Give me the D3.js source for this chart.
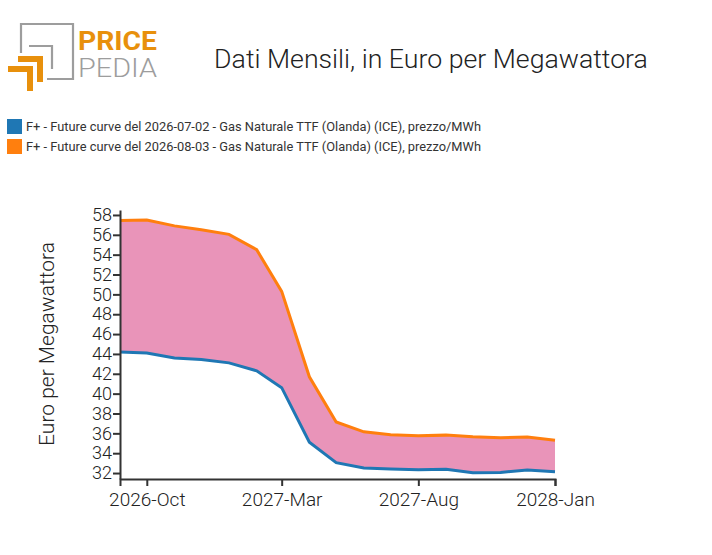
<!DOCTYPE html>
<html>
<head>
<meta charset="utf-8">
<script src="https://cdn.jsdelivr.net/npm/d3@7"></script>
<style>
  body { margin: 0; background: #fff; }
  svg text { font-family: Roboto, sans-serif; }
</style>
</head>
<body>
<div id="chart"></div>
<script>
// monthly futures curve, Sep 2026 .. Jan 2028
var months = ["2026-09", "2026-10", "2026-11", "2026-12", "2027-01", "2027-02", "2027-03", "2027-04",
              "2027-05", "2027-06", "2027-07", "2027-08", "2027-09", "2027-10", "2027-11", "2027-12", "2028-01"];
var curveJul = [44.2, 44.1, 43.6, 43.45, 43.1, 42.3, 40.6, 35.1, 33.05, 32.5, 32.4, 32.33, 32.38, 32.03, 32.06, 32.3, 32.13];
var curveAug = [57.45, 57.5, 56.9, 56.5, 56.05, 54.5, 50.3, 41.7, 37.15, 36.15, 35.85, 35.75, 35.82, 35.65, 35.55, 35.62, 35.3];
var seriesNames = [
  "F+ - Future curve del 2026-07-02 - Gas Naturale TTF (Olanda) (ICE), prezzo/MWh",
  "F+ - Future curve del 2026-08-03 - Gas Naturale TTF (Olanda) (ICE), prezzo/MWh"
];
var xTicks = ["2026-10", "2027-03", "2027-08", "2028-01"];
var yTicks = [32, 34, 36, 38, 40, 42, 44, 46, 48, 50, 52, 54, 56, 58];

var width = 712, height = 555;
var colors = ["#1f77b4", "#ff7f0e"];

var svg = d3.select("#chart").append("svg")
    .attr("width", width)
    .attr("height", height);

var parse = d3.timeParse("%Y-%m");
var dates = months.map(parse);

var x = d3.scaleTime()
    .domain([dates[0], dates[dates.length - 1]])
    .range([120, 555]);

var y = d3.scaleLinear()
    .domain([31.4, 58.5])
    .range([479, 210]);

// logo
var logo = svg.append("g");
logo.append("path")
    .attr("d", "M21,53 V24 H73 V79 H47")
    .style("fill", "none").style("stroke", "#9d9d9d").style("stroke-width", 2.2);
logo.append("path")
    .attr("d", "M29,46 H52 V69")
    .style("fill", "none").style("stroke", "#9d9d9d").style("stroke-width", 2.2);
logo.append("path")
    .attr("d", "M18,59 H40 V82")
    .style("fill", "none").style("stroke", "#e8900c").style("stroke-width", 6);
logo.append("path")
    .attr("d", "M8,69 H30 V91")
    .style("fill", "none").style("stroke", "#e8900c").style("stroke-width", 6);
logo.append("text")
    .attr("x", 78).attr("y", 49.5)
    .style("font-size", "25px").style("font-weight", "bold").style("fill", "#e8900c")
    .attr("textLength", 79).attr("lengthAdjust", "spacingAndGlyphs")
    .text("PRICE");
logo.append("text")
    .attr("x", 78).attr("y", 77)
    .style("font-size", "25px").style("font-weight", "300").style("fill", "#9d9d9d")
    .attr("textLength", 79).attr("lengthAdjust", "spacingAndGlyphs")
    .text("PEDIA");

// title
svg.append("text")
    .attr("x", 431).attr("y", 68)
    .attr("text-anchor", "middle")
    .style("font-size", "26.7px").style("font-weight", "300").style("fill", "#222")
    .text("Dati Mensili, in Euro per Megawattora");

// legend
var legend = svg.append("g").selectAll("g")
    .data(seriesNames)
    .enter().append("g")
    .attr("transform", function(d, i) { return "translate(7," + (119 + i * 20) + ")"; });
legend.append("rect")
    .attr("width", 15).attr("height", 15)
    .style("fill", function(d, i) { return colors[i]; });
legend.append("text")
    .attr("x", 19).attr("y", 12)
    .style("font-size", "12px").style("fill", "#333")
    .attr("textLength", 455).attr("lengthAdjust", "spacingAndGlyphs")
    .text(function(d) { return d; });

// filled band between the two curves
var band = d3.area()
    .x(function(d, i) { return x(dates[i]); })
    .y0(function(d, i) { return y(curveJul[i]); })
    .y1(function(d, i) { return y(curveAug[i]); });

svg.append("path")
    .datum(months)
    .attr("d", band)
    .style("fill", "#e994b9");

var line = d3.line()
    .x(function(d, i) { return x(dates[i]); })
    .y(function(d) { return y(d); });

[curveJul, curveAug].forEach(function(s, k) {
  svg.append("path")
      .datum(s)
      .attr("d", line)
      .style("fill", "none")
      .style("stroke", colors[k])
      .style("stroke-width", 3);
});

// axes
var xAxis = svg.append("g")
    .attr("transform", "translate(0,479)")
    .call(d3.axisBottom(x)
      .tickValues(xTicks.map(parse))
      .tickFormat(d3.timeFormat("%Y-%b"))
      .tickSize(7).tickSizeOuter(7));
xAxis.selectAll("text").style("font-size", "19px").style("font-weight", "300").style("fill", "#222").attr("dy", "0.9em");
xAxis.selectAll("path, line").style("stroke", "#333").style("stroke-width", 2);

var yAxis = svg.append("g")
    .attr("transform", "translate(120,0)")
    .call(d3.axisLeft(y)
      .tickValues(yTicks)
      .tickSize(7).tickSizeOuter(0));
yAxis.selectAll("text").style("font-size", "18px").style("font-weight", "300").style("fill", "#222").attr("x", -8);
yAxis.selectAll("path, line").style("stroke", "#333").style("stroke-width", 2);

svg.append("text")
    .attr("transform", "translate(54,344) rotate(-90)")
    .attr("text-anchor", "middle")
    .style("font-size", "21px").style("font-weight", "300").style("fill", "#222")
    .text("Euro per Megawattora");
</script>
</body>
</html>
